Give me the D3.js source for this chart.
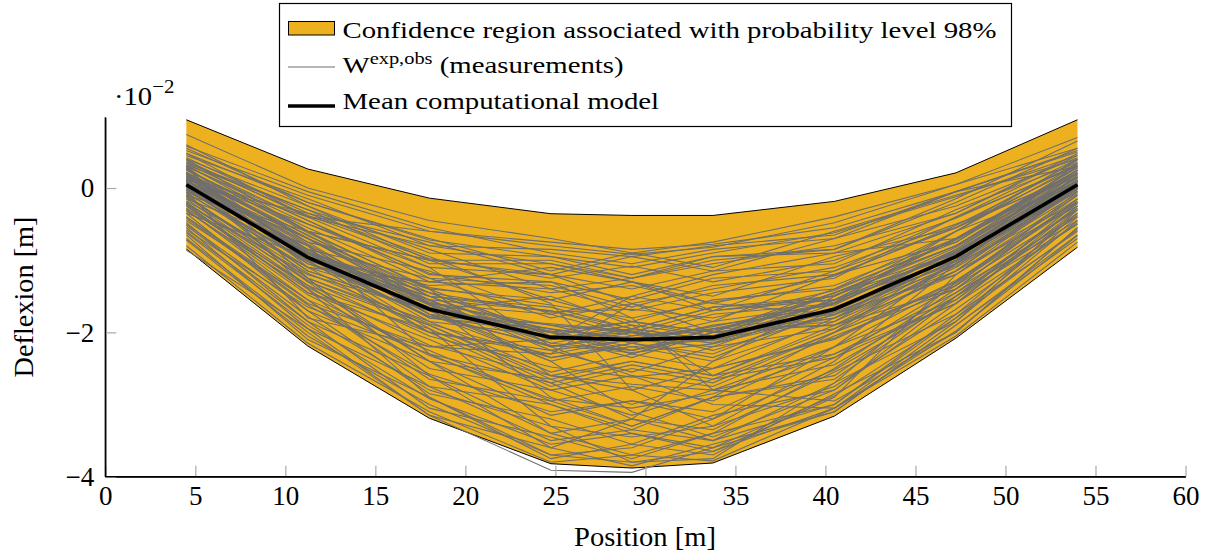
<!DOCTYPE html>
<html><head><meta charset="utf-8">
<script src="https://cdn.jsdelivr.net/npm/d3@7"></script>
<style>
html,body{margin:0;padding:0;background:#fff;}
svg{display:block;}
</style></head>
<body><svg id="c" width="1212" height="554"></svg>
<script>
// ---- data (deflexion in units of 1e-2 m) ----
const positions = [4.5, 11.25, 18, 24.75, 29.25, 33.75, 40.5, 47.25, 54];
const bandUpper = [0.946, 0.263, -0.14, -0.356, -0.38, -0.38, -0.185, 0.21, 0.946];
const bandLower = [-0.845, -2.19, -3.19, -3.82, -3.88, -3.81, -3.16, -2.08, -0.82];
const meanModel = [0.046, -0.96, -1.68, -2.07, -2.10, -2.07, -1.68, -0.95, 0.046];
const measurements = [
 [0.10,-0.70,-1.62,-2.10,-1.90,-2.05,-1.48,-0.95,0.12],
 [0.25,-0.55,-1.30,-1.40,-1.70,-1.45,-1.25,-0.40,0.30],
 [-0.22,-1.45,-1.95,-2.70,-2.45,-2.65,-2.00,-1.35,-0.05],
 [0.35,-0.30,-1.05,-1.05,-1.25,-0.95,-0.90,-0.35,0.45],
 [-0.45,-1.55,-2.75,-3.00,-3.35,-2.90,-2.65,-1.50,-0.50],
 [0.05,-1.15,-1.70,-2.35,-2.15,-2.30,-1.65,-1.05,0.18],
 [0.15,-0.65,-1.50,-1.70,-1.95,-1.65,-1.55,-0.70,0.10],
 [-0.10,-1.25,-1.85,-2.55,-2.30,-2.50,-1.80,-1.15,0.05],
 [0.45,-0.15,-0.80,-0.85,-0.95,-0.80,-0.65,-0.05,0.50],
 [-0.60,-1.85,-3.05,-3.45,-3.75,-3.40,-3.00,-1.75,-0.60],
 [0.20,-0.85,-1.25,-1.80,-1.60,-1.85,-1.20,-0.75,0.30],
 [0.00,-0.95,-1.85,-2.05,-2.35,-2.00,-1.85,-0.90,-0.05],
 [-0.30,-1.55,-2.25,-2.95,-2.75,-2.95,-2.20,-1.55,-0.20],
 [0.30,-0.45,-1.20,-1.30,-1.55,-1.25,-1.15,-0.40,0.40],
 [-0.05,-0.80,-1.80,-1.95,-2.30,-1.95,-1.90,-1.20,-0.15],
 [0.12,-1.05,-1.50,-2.15,-1.95,-2.10,-1.45,-0.80,0.25],
 [0.74,0.00,-0.45,-0.70,-0.90,-0.75,-0.40,0.05,0.70],
 [-0.80,-2.15,-3.10,-3.80,-3.70,-3.78,-3.05,-2.05,-0.75],
 [-0.86,-1.95,-3.15,-3.91,-3.94,-3.60,-3.10,-1.90,-0.65],
 [0.22,-0.70,-1.60,-1.75,-2.05,-1.75,-1.60,-0.90,0.15],
 [-0.15,-1.30,-1.90,-2.60,-2.40,-2.60,-1.95,-1.05,-0.20],
 [0.40,-0.25,-1.00,-1.00,-1.25,-1.00,-0.85,-0.20,0.55],
 [0.08,-0.95,-1.50,-2.10,-1.95,-2.10,-1.55,-1.00,0.00],
 [-0.35,-1.70,-2.40,-3.15,-2.95,-3.10,-2.35,-1.60,-0.25],
 [0.18,-0.70,-1.55,-1.70,-2.00,-1.70,-1.55,-0.70,0.25],
 [-0.50,-1.70,-2.85,-3.20,-3.55,-3.15,-2.80,-1.60,-0.50],
 [0.28,-0.75,-1.15,-1.75,-1.50,-1.70,-1.15,-0.55,0.20],
 [0.02,-0.95,-1.80,-2.00,-2.30,-2.00,-1.80,-1.05,0.10],
 [-0.25,-1.45,-2.10,-2.80,-2.60,-2.75,-2.05,-1.40,-0.15],
 [0.38,-0.40,-1.10,-1.20,-1.40,-1.15,-1.05,-0.30,0.35],
 [-0.65,-2.10,-2.90,-3.75,-3.55,-3.70,-2.85,-2.00,-0.55],
 [0.10,-0.85,-1.70,-1.90,-2.15,-1.90,-1.70,-0.85,0.20],
 [0.55,-0.20,-0.70,-1.15,-0.90,-1.10,-0.60,-0.10,0.40],
 [-0.40,-1.55,-2.65,-2.95,-3.30,-2.90,-2.60,-1.45,-0.45],
 [0.15,-0.90,-1.45,-2.00,-1.85,-2.00,-1.45,-0.90,0.08],
 [-0.08,-1.00,-2.00,-2.25,-2.55,-2.20,-1.95,-1.15,0.00],
 [0.32,-0.60,-1.00,-1.55,-1.30,-1.50,-0.95,-0.55,0.38],
 [-0.55,-1.95,-2.75,-3.50,-3.35,-3.50,-2.70,-1.85,-0.45],
 [0.06,-0.90,-1.75,-1.98,-2.25,-1.95,-1.75,-1.00,0.02],
 [-0.20,-1.35,-2.00,-2.75,-2.50,-2.70,-2.00,-1.15,-0.25],
 [0.25,-0.60,-1.40,-1.55,-1.85,-1.55,-1.40,-0.60,0.32],
 [-0.70,-2.00,-3.15,-3.60,-3.85,-3.55,-3.10,-1.90,-0.70],
 [0.12,-0.95,-1.45,-2.05,-1.85,-2.05,-1.45,-0.80,0.20],
 [0.42,-0.35,-0.75,-1.20,-0.95,-1.15,-0.70,-0.25,0.42],
 [-0.32,-1.40,-2.50,-2.80,-3.15,-2.80,-2.45,-1.50,-0.35],
 [0.00,-1.15,-1.70,-2.40,-2.15,-2.35,-1.70,-0.95,0.08],
 [0.20,-0.70,-1.50,-1.65,-1.95,-1.65,-1.50,-0.80,0.15],
 [-0.12,-1.25,-1.90,-2.65,-2.40,-2.60,-1.90,-1.05,-0.02],
 [0.34,-0.45,-1.25,-1.35,-1.65,-1.35,-1.20,-0.55,0.28],
 [-0.48,-1.85,-2.60,-3.40,-3.20,-3.35,-2.55,-1.75,-0.35],
 [0.08,-1.00,-1.55,-2.20,-2.00,-2.15,-1.55,-0.90,0.15],
 [0.60,-0.25,-0.90,-0.95,-1.20,-0.95,-0.85,-0.15,0.65],
 [-0.28,-1.35,-2.40,-2.65,-3.00,-2.65,-2.35,-1.35,-0.30],
 [0.18,-0.90,-1.40,-2.05,-1.85,-2.00,-1.40,-0.75,0.25],
 [0.48,-0.40,-0.60,-0.75,-0.85,-0.78,-0.55,-0.05,0.30],
 [-0.15,-0.80,-2.30,-3.00,-3.40,-3.65,-2.90,-1.20,-0.10],
 [0.28,-1.25,-2.60,-3.60,-3.20,-2.40,-1.50,-0.60,0.05],
 [-0.35,-0.95,-1.35,-1.30,-1.80,-2.80,-2.95,-2.00,-0.55],
 [0.05,-0.35,-0.95,-1.60,-2.80,-3.30,-2.40,-1.05,0.10],
 [0.20,-1.40,-2.90,-3.70,-3.60,-3.20,-2.20,-1.00,0.35],
 [-0.05,-1.80,-2.20,-2.10,-1.50,-1.20,-0.90,-0.70,0.22],
 [0.12,-0.50,-1.10,-2.20,-2.60,-3.00,-3.05,-1.85,-0.30],
 [0.30,-0.95,-1.95,-3.30,-3.80,-3.75,-2.70,-1.30,-0.10],
 [-0.18,-1.10,-1.30,-1.10,-1.30,-1.60,-1.75,-1.20,0.00],
 [0.10,-0.75,-1.75,-2.40,-3.10,-3.45,-2.80,-1.50,-0.25],
 [-0.40,-1.60,-2.20,-2.30,-2.10,-2.20,-1.60,-0.60,0.40],
 [0.02,-0.90,-1.60,-1.90,-2.00,-2.25,-1.75,-1.00,-0.05],
 [0.14,-0.80,-1.75,-2.20,-2.05,-1.95,-1.60,-0.88,0.10],
 [-0.02,-1.05,-1.65,-2.00,-2.20,-2.10,-1.80,-0.92,0.06],
 [0.20,-0.88,-1.55,-2.25,-2.10,-1.85,-1.62,-0.85,0.16],
 [0.04,-0.98,-1.78,-1.88,-1.98,-2.15,-1.70,-1.02,0.02],
 [-0.06,-1.10,-1.60,-2.15,-2.25,-2.05,-1.72,-1.08,-0.04],
 [0.16,-0.78,-1.68,-1.95,-2.10,-1.92,-1.58,-0.82,0.14],
 [0.26,-0.62,-1.38,-1.62,-1.80,-1.58,-1.35,-0.70,0.24],
 [-0.12,-1.18,-1.88,-2.35,-2.20,-2.40,-1.85,-1.10,-0.08],
 [0.30,-0.50,-1.18,-1.45,-1.35,-1.60,-1.22,-0.52,0.34],
 [0.36,-0.38,-0.98,-1.25,-1.08,-1.30,-1.00,-0.42,0.32],
 [-0.20,-1.28,-2.05,-2.48,-2.62,-2.50,-2.08,-1.28,-0.18],
 [-0.24,-1.38,-2.18,-2.60,-2.72,-2.80,-2.20,-1.32,-0.22],
 [0.48,-0.20,-0.72,-0.95,-1.10,-0.90,-0.62,-0.12,0.45],
 [0.52,-0.10,-0.60,-0.80,-0.92,-0.82,-0.48,0.05,0.55],
 [-0.42,-1.62,-2.58,-3.10,-2.95,-3.20,-2.52,-1.55,-0.38],
 [-0.52,-1.78,-2.80,-3.30,-3.45,-3.30,-2.75,-1.68,-0.48],
 [-0.62,-1.90,-2.92,-3.55,-3.40,-3.60,-2.88,-1.80,-0.58],
 [-0.72,-2.05,-3.00,-3.70,-3.80,-3.65,-3.05,-1.98,-0.66],
 [0.08,-0.92,-1.62,-2.08,-2.00,-2.12,-1.66,-0.96,0.07],
 [0.11,-0.86,-1.58,-1.96,-2.08,-1.97,-1.60,-0.87,0.11],
 [-0.03,-1.02,-1.78,-2.18,-2.28,-2.16,-1.76,-1.00,-0.01],
 [0.22,-0.66,-1.45,-1.72,-1.68,-1.80,-1.42,-0.72,0.20],
 [0.58,-0.05,-0.55,-0.90,-1.05,-0.85,-0.70,-0.05,0.52],
 [-0.30,-1.48,-2.32,-2.92,-3.05,-2.85,-2.30,-1.45,-0.28],
 [0.00,-0.70,-1.40,-2.60,-2.80,-2.50,-2.10,-1.30,-0.20],
 [0.28,-1.10,-2.00,-2.30,-1.60,-1.40,-1.10,-0.50,0.15],
 [-0.22,-1.20,-1.70,-1.50,-1.90,-2.60,-2.30,-1.60,-0.30],
 [0.40,-0.60,-1.60,-2.90,-3.30,-2.90,-2.00,-0.90,0.20],
 [-0.10,-0.60,-1.00,-1.20,-1.60,-2.00,-1.90,-1.40,-0.40],
 [0.16,-0.40,-0.80,-1.05,-1.30,-1.70,-1.50,-0.70,0.28],
 [-0.58,-1.65,-2.30,-2.70,-3.20,-3.50,-3.00,-1.80,-0.40],
 [0.06,-1.30,-2.40,-3.40,-3.70,-3.40,-2.50,-1.40,-0.15],
 [0.32,-0.30,-0.85,-1.40,-1.25,-1.05,-0.80,-0.35,0.48]
];
const xTicks = [0,5,10,15,20,25,30,35,40,45,50,55,60];
const yTicks = [-4,-2,0];
const legendLabels = ["Confidence region associated with probability level 98%", "W", "exp,obs", " (measurements)", "Mean computational model"];

// ---- layout ----
const svg = d3.select("#c");
const x = d3.scaleLinear().domain([0,60]).range([105.3,1185.5]);
const y = d3.scaleLinear().domain([-4,0.98]).range([476.7,117.3]);
const FONT = "'Liberation Serif', 'Times New Roman', serif";
const GRAY = "#6f6f6f";

// band
const band = positions.map((p,i)=>({p, lo:bandLower[i], hi:bandUpper[i]}));
svg.append("path").datum(band)
  .attr("d", d3.area().x(d=>x(d.p)).y0(d=>y(d.lo)).y1(d=>y(d.hi)))
  .attr("fill","#EDB120");
const edge = d3.line().x(d=>x(d[0])).y(d=>y(d[1]));
svg.append("path").datum(positions.map((p,i)=>[p,bandUpper[i]])).attr("d",edge)
  .attr("fill","none").attr("stroke","#000").attr("stroke-width",1);
svg.append("path").datum(positions.map((p,i)=>[p,bandLower[i]])).attr("d",edge)
  .attr("fill","none").attr("stroke","#000").attr("stroke-width",1);

// measurements
svg.append("g").selectAll("path").data(measurements).join("path")
  .attr("d", s=>edge(s.map((v,i)=>[positions[i],v])))
  .attr("fill","none").attr("stroke",GRAY).attr("stroke-width",1.1);

// mean
svg.append("path").datum(positions.map((p,i)=>[p,meanModel[i]])).attr("d",edge)
  .attr("fill","none").attr("stroke","#000").attr("stroke-width",3.6);

// axes
const xa = svg.append("g").attr("transform",`translate(0,${y(-4)})`)
  .call(d3.axisBottom(x).tickValues(xTicks).tickSize(0).tickPadding(20).tickFormat(d3.format("d")));
xa.select(".domain").attr("stroke","#000").attr("stroke-width",1.3);
xa.selectAll(".tick text").style("font-family",FONT).attr("font-size",27).attr("fill","#000").attr("dy","0.71em").attr("y",9);
xa.selectAll(".tick").append("line").attr("y1",0).attr("y2",-11).attr("stroke","#aaa").attr("stroke-width",1.2);

const ya = svg.append("g").attr("transform",`translate(${x(0)},0)`)
  .call(d3.axisLeft(y).tickValues(yTicks).tickSize(0).tickPadding(10)
    .tickFormat(d=>d<0?"\u2212"+Math.abs(d):String(d)));
ya.select(".domain").attr("stroke","#000").attr("stroke-width",1.3);
ya.selectAll(".tick text").style("font-family",FONT).attr("font-size",27).attr("fill","#000").attr("x",-11);
ya.selectAll(".tick").append("line").attr("x1",0).attr("x2",11).attr("stroke","#aaa").attr("stroke-width",1.2);
svg.append("line").attr("x1",x(0)).attr("x2",x(0)).attr("y1",y(0.98)).attr("y2",y(-4)).attr("stroke","#000").attr("stroke-width",1.3);
svg.append("line").attr("x1",x(0)).attr("x2",x(60)).attr("y1",y(-4)).attr("y2",y(-4)).attr("stroke","#000").attr("stroke-width",1.3);

// scale label
const sc = svg.append("text").attr("transform","translate(114,105) scale(1.1,1)").style("font-family",FONT).attr("font-size",26).attr("fill","#000");
sc.append("tspan").text("\u00b710");
sc.append("tspan").attr("dy",-12).attr("font-size",19).text("\u22122");

// axis titles
svg.append("text").attr("x",645).attr("y",546).attr("text-anchor","middle")
  .style("font-family",FONT).attr("font-size",27).attr("textLength",142).attr("lengthAdjust","spacingAndGlyphs").text("Position [m]");
svg.append("text").attr("transform","translate(33,297) rotate(-90)").attr("text-anchor","middle")
  .style("font-family",FONT).attr("font-size",27).attr("textLength",161).attr("lengthAdjust","spacingAndGlyphs").text("Deflexion [m]");

// legend
const lg = svg.append("g");
lg.append("rect").attr("x",279.5).attr("y",3.5).attr("width",732).attr("height",123)
  .attr("fill","#fff").attr("stroke","#000").attr("stroke-width",1.2);
lg.append("rect").attr("x",288.5).attr("y",21.5).attr("width",46).attr("height",13.5)
  .attr("fill","#EDB120").attr("stroke","#000").attr("stroke-width",1);
lg.append("line").attr("x1",288).attr("x2",335).attr("y1",67).attr("y2",67).attr("stroke",GRAY).attr("stroke-width",1.1);
lg.append("line").attr("x1",288).attr("x2",335).attr("y1",106).attr("y2",106).attr("stroke","#000").attr("stroke-width",3.6);
const tx = 342.5, SX = 1.2;
lg.append("text").attr("transform",`translate(${tx},37.5) scale(${SX},1)`).style("font-family",FONT).attr("font-size",24).text(legendLabels[0]);
const t2 = lg.append("text").attr("transform",`translate(${tx},72.5) scale(${SX},1)`).style("font-family",FONT).attr("font-size",24);
t2.append("tspan").text(legendLabels[1]);
t2.append("tspan").attr("dy",-9).attr("font-size",17).text(legendLabels[2]);
t2.append("tspan").attr("dy",9).text(legendLabels[3]);
lg.append("text").attr("transform",`translate(${tx},108.5) scale(${SX},1)`).style("font-family",FONT).attr("font-size",24).text(legendLabels[4]);
</script></body></html>
